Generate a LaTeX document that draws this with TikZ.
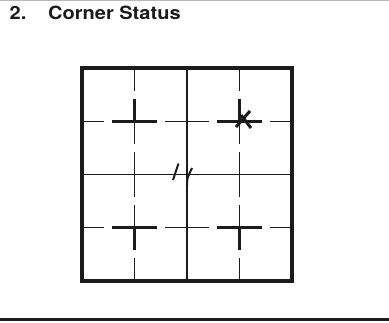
\documentclass[tikz,border=0pt]{standalone}
\usepackage{fontspec}
\newfontfamily\headfont[FakeStretch=1.1]{TeX Gyre Heros}
\usetikzlibrary{calc}
\definecolor{ink}{RGB}{28, 28, 28}

\begin{document}
\begin{tikzpicture}[x=1pt, y=-1pt,
      gridframe/.style={draw=ink, line width=3.3pt},
      gridline/.style={draw=ink, line width=1.2pt},
      hdash/.style={gridline, dash pattern=on 44.5pt off 8pt, dash phase=22.25pt},
      vdash/.style={gridline, dash pattern=on 45.25pt off 8pt, dash phase=22.6pt},
      markstroke/.style={draw=ink, line width=2.8pt},
      headline/.style={font=\headfont\bfseries\fontsize{18.2}{21}\selectfont, text=ink, anchor=base west, inner sep=0pt}
    ]
      \useasboundingbox[fill=white] (0,0) rectangle (389,322);

      % heading and rules
      \node[headline] (num) at (9.5,19.5) {2.};
      \node[headline] (title) at (48,19.5) {Corner Status};
      \draw[gray!55, line width=1pt] (0,0.5) -- (389,0.5);
      \draw[ink, line width=3.5pt] (0,319.5) -- (389,319.5);

      % grid points
      \foreach \i in {0,...,4}
        \foreach \j in {0,...,4}
          \coordinate (g-\i-\j) at (82+52.5*\i, 68+53.25*\j);

      \draw[vdash] (g-1-0) -- (g-1-4);
      \draw[vdash] (g-3-0) -- (g-3-4);
      \draw[hdash] (g-0-1) -- (g-4-1);
      \draw[hdash] (g-0-3) -- (g-4-3);
      \draw[gridline] (g-2-0) -- (g-2-4);
      \draw[gridline] (g-0-2) -- (g-4-2);
      \draw[gridframe] (g-0-0) rectangle (g-4-4);

      % corner marks
      \foreach \c/\d in {1-1/-1, 1-3/1, 3-3/1, 3-1/-1} {
        \draw[markstroke] ($(g-\c)+(-22.25,0)$) -- ($(g-\c)+(22.25,0)$);
        \draw[markstroke] (g-\c) -- ($(g-\c)+(0,22.6*\d)$);
      }
      \draw[markstroke, line width=3pt] ($(g-3-1)+(-3.5,5.75)$) -- ($(g-3-1)+(10.5,-10.25)$);
      \draw[markstroke, line width=3pt] ($(g-3-1)+(1.5,-6.25)$) -- ($(g-3-1)+(11.5,6.75)$);

      % centre ticks
      \draw[markstroke, line width=2pt] ($(g-2-2)+(-14,5.5)$) -- ($(g-2-2)+(-8.5,-11)$);
      \draw[markstroke, line width=2pt] ($(g-2-2)+(0,11.5)$) .. controls ($(g-2-2)+(0,4)$) .. ($(g-2-2)+(5,-6.5)$);
    \end{tikzpicture}
\end{document}
